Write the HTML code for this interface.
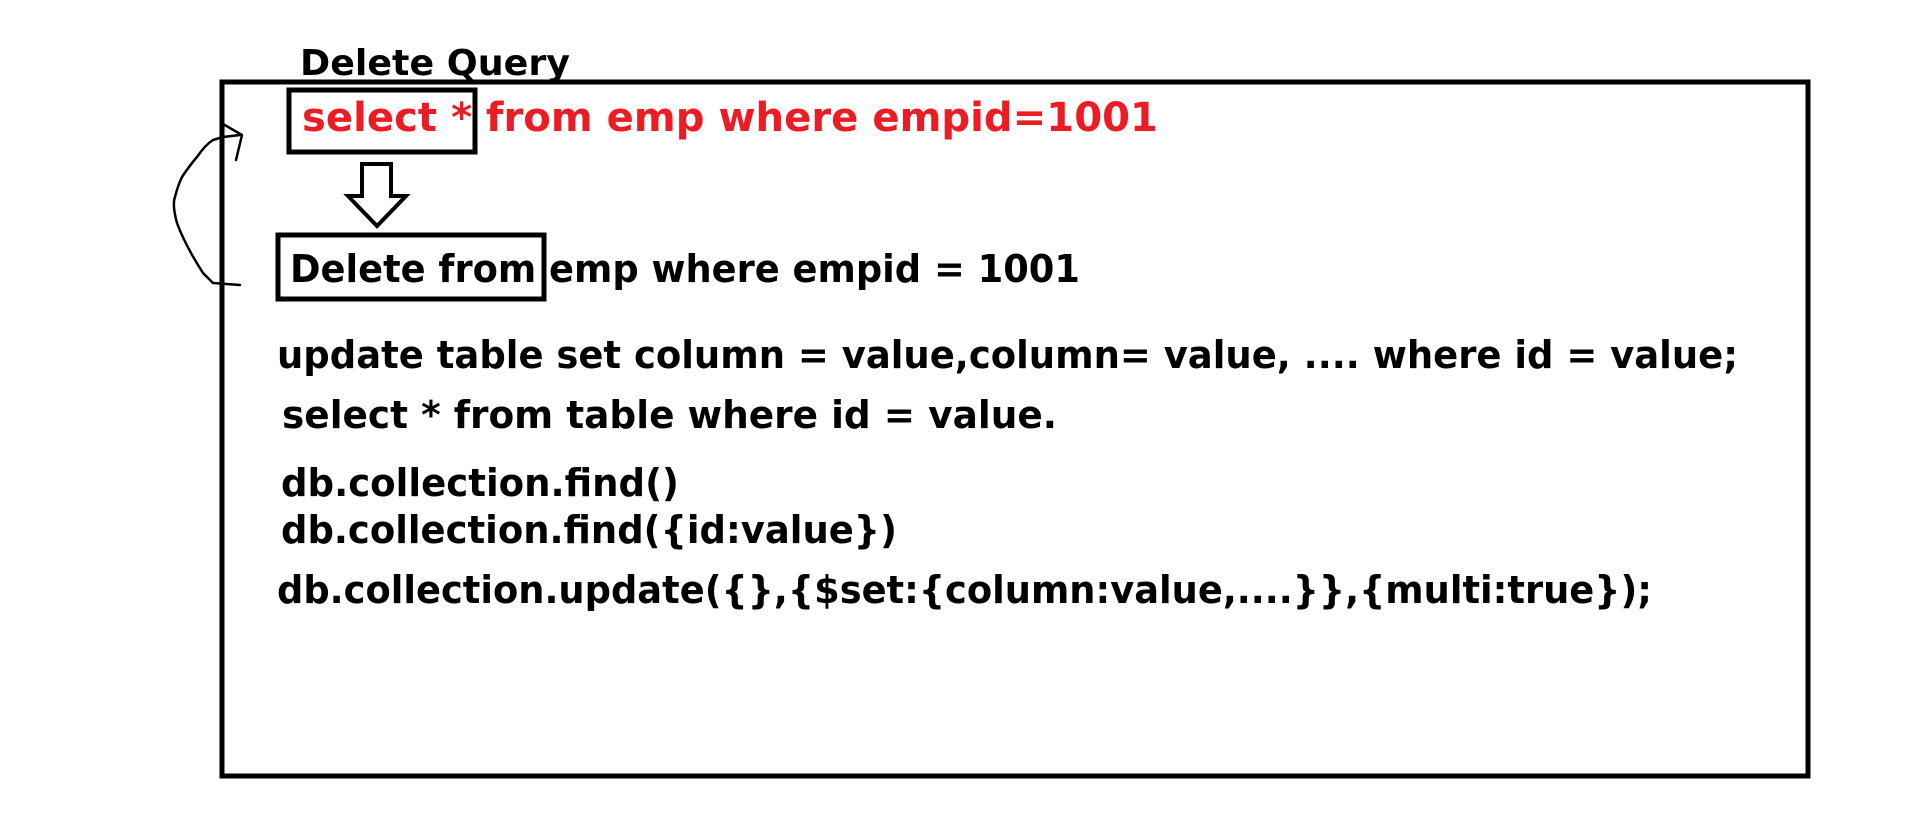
<!DOCTYPE html>
<html><head><meta charset="utf-8"><style>
html,body{margin:0;padding:0;background:#fff;}
svg{display:block}
text{font-family:"DejaVu Sans","Liberation Sans",sans-serif;font-weight:bold;}
</style></head><body>
<svg width="1914" height="817" viewBox="0 0 1914 817" xmlns="http://www.w3.org/2000/svg">
<rect x="0" y="0" width="1914" height="817" fill="#fff"/>
<rect x="222" y="82" width="1586" height="694" fill="none" stroke="#000" stroke-width="5"/>
<text x="300" y="75" font-size="36" fill="#000" textLength="270" lengthAdjust="spacingAndGlyphs">Delete Query</text>
<rect x="289" y="90" width="186" height="62" fill="none" stroke="#000" stroke-width="5"/>
<text x="302" y="131" font-size="40" fill="#ed1c24" textLength="856" lengthAdjust="spacingAndGlyphs">select * from emp where empid=1001</text>
<polygon points="362,164 391,164 391,196 406,196 377,226 348,196 362,196" fill="#fff" stroke="#000" stroke-width="4" stroke-linejoin="miter"/>
<rect x="278" y="235" width="266" height="64" fill="none" stroke="#000" stroke-width="5"/>
<text x="290" y="282" font-size="38" fill="#000" textLength="790" lengthAdjust="spacingAndGlyphs">Delete from emp where empid = 1001</text>
<path d="M240,285 L213,283 L203,273 Q185,245 177,223 Q172,205 175,197 Q178,185 182,177 Q190,165 197,157 Q205,145 213,140 L223,137 L240,135" fill="none" stroke="#000" stroke-width="2.5" stroke-linecap="round" stroke-linejoin="round"/>
<path d="M223,124 L242,135 L236,160" fill="none" stroke="#000" stroke-width="2.5" stroke-linecap="round" stroke-linejoin="round"/>
<g font-size="38" fill="#000">
<text x="277" y="368" textLength="1461" lengthAdjust="spacingAndGlyphs">update table set column = value,column= value, .... where id = value;</text>
<text x="282" y="428" textLength="775" lengthAdjust="spacingAndGlyphs">select * from table where id = value.</text>
<text x="281" y="496" textLength="398" lengthAdjust="spacingAndGlyphs">db.collection.find()</text>
<text x="281" y="543" textLength="616" lengthAdjust="spacingAndGlyphs">db.collection.find({id:value})</text>
<text x="277" y="603" textLength="1375" lengthAdjust="spacingAndGlyphs">db.collection.update({},{$set:{column:value,....}},{multi:true});</text>
</g>
</svg>
</body></html>
